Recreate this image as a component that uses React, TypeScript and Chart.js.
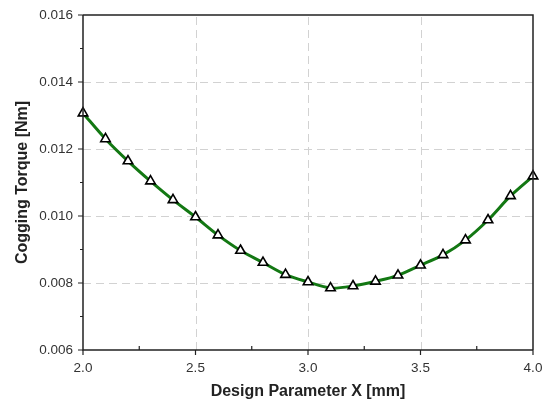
import React, { useEffect, useRef } from "react";
import { Chart, registerables } from "chart.js";

Chart.register(...registerables);

const xValues = [2.0, 2.1, 2.2, 2.3, 2.4, 2.5, 2.6, 2.7, 2.8, 2.9, 3.0, 3.1, 3.2, 3.3, 3.4, 3.5, 3.6, 3.7, 3.8, 3.9, 4.0];
const torqueValues = [0.01307, 0.0123, 0.01164, 0.01104, 0.01048, 0.00997, 0.00943, 0.00897, 0.00861, 0.00825, 0.00803, 0.00785, 0.00791, 0.00805, 0.00823, 0.00853, 0.00884, 0.00928, 0.00988, 0.0106, 0.01119];
const xMajorTicks = [2.0, 2.5, 3.0, 3.5, 4.0];
const xMinorTicks = [2.25, 2.75, 3.25, 3.75];
const yMajorTicks = [0.006, 0.008, 0.01, 0.012, 0.014, 0.016];
const yMinorTicks = [0.007, 0.009, 0.011, 0.013, 0.015];

const gridPlugin = {
  id: "dashGrid",
  beforeDatasetsDraw(chart: any) {
    const { ctx, chartArea } = chart;
    const xs = chart.scales.x;
    const ys = chart.scales.y;
    ctx.save();
    ctx.strokeStyle = "#d2d2d2";
    ctx.lineWidth = 1;
    ctx.setLineDash([8, 5]);
    ctx.beginPath();
    for (const v of xMajorTicks.slice(1, -1)) {
      const px = Math.round(xs.getPixelForValue(v)) + 0.5;
      ctx.moveTo(px, chartArea.bottom);
      ctx.lineTo(px, chartArea.top);
    }
    for (const v of yMajorTicks.slice(1, -1)) {
      const py = Math.round(ys.getPixelForValue(v)) + 0.5;
      ctx.moveTo(chartArea.left, py);
      ctx.lineTo(chartArea.right, py);
    }
    ctx.stroke();
    ctx.restore();
  },
};

const axisPlugin = {
  id: "axisTicks",
  afterDraw(chart: any) {
    const { ctx, chartArea } = chart;
    const xs = chart.scales.x;
    const ys = chart.scales.y;
    ctx.save();
    ctx.strokeStyle = "#222";
    ctx.lineWidth = 1.5;
    ctx.beginPath();
    ctx.moveTo(chartArea.left, chartArea.top);
    ctx.lineTo(chartArea.right, chartArea.top);
    ctx.lineTo(chartArea.right, chartArea.bottom);
    ctx.stroke();
    ctx.beginPath();
    ctx.moveTo(chartArea.left, chartArea.top);
    ctx.lineTo(chartArea.left, chartArea.bottom);
    ctx.lineTo(chartArea.right, chartArea.bottom);
    ctx.stroke();
    ctx.lineWidth = 1.2;
    ctx.beginPath();
    for (const v of xMajorTicks) {
      const px = xs.getPixelForValue(v);
      ctx.moveTo(px, chartArea.bottom);
      ctx.lineTo(px, chartArea.bottom + 5);
    }
    for (const v of xMinorTicks) {
      const px = xs.getPixelForValue(v);
      ctx.moveTo(px, chartArea.bottom);
      ctx.lineTo(px, chartArea.bottom - 4);
    }
    for (const v of yMajorTicks) {
      const py = ys.getPixelForValue(v);
      ctx.moveTo(chartArea.left, py);
      ctx.lineTo(chartArea.left - 5, py);
    }
    for (const v of yMinorTicks) {
      const py = ys.getPixelForValue(v);
      ctx.moveTo(chartArea.left, py);
      ctx.lineTo(chartArea.left - 3, py);
    }
    ctx.stroke();
    ctx.restore();
  },
};

export default function App() {
  const ref = useRef<HTMLCanvasElement>(null);
  useEffect(() => {
    document.body.style.margin = "0";
    const chart = new Chart(ref.current!, {
      type: "line",
      data: {
        datasets: [
          {
            data: xValues.map((x, i) => ({ x, y: torqueValues[i] })),
            borderColor: "#137813",
            borderWidth: 3,
            pointStyle: "triangle",
            pointRadius: 5.5,
            pointBackgroundColor: "#ffffff",
            pointBorderColor: "#000000",
            pointBorderWidth: 1.6,
            tension: 0.3,
            clip: false as any,
          },
        ],
      },
      options: {
        animation: false,
        responsive: false,
        layout: { padding: { left: 0, right: 17, top: 15, bottom: 0 } },
        plugins: { legend: { display: false }, tooltip: { enabled: false } },
        scales: {
          x: {
            type: "linear",
            min: 2,
            max: 4,
            afterBuildTicks: (s: any) => {
              s.ticks = xMajorTicks.map((v) => ({ value: v }));
            },
            afterFit: (s: any) => {
              s.height = 51;
              s.paddingLeft = 0;
              s.paddingRight = 0;
            },
            ticks: {
              callback: (v: any) => Number(v).toFixed(1),
              font: { family: "Liberation Sans", size: 13.5 },
              color: "#333",
              padding: 10,
              maxRotation: 0,
            },
            grid: { display: false, drawTicks: false },
            border: { display: false },
            title: {
              display: true,
              text: "Design Parameter X [mm]",
              font: { family: "Liberation Sans", size: 16, weight: "bold" },
              color: "#222",
              padding: { top: 2, bottom: 0 },
            },
          },
          y: {
            type: "linear",
            min: 0.006,
            max: 0.016,
            afterBuildTicks: (s: any) => {
              s.ticks = yMajorTicks.map((v) => ({ value: v }));
            },
            afterFit: (s: any) => {
              s.width = 83;
              s.paddingTop = 0;
              s.paddingBottom = 0;
            },
            ticks: {
              callback: (v: any) => Number(v).toFixed(3),
              font: { family: "Liberation Sans", size: 13.5 },
              color: "#333",
              padding: 10,
            },
            grid: { display: false, drawTicks: false },
            border: { display: false },
            title: {
              display: true,
              text: "Cogging Torque [Nm]",
              font: { family: "Liberation Sans", size: 16, weight: "bold" },
              color: "#222",
              padding: { top: 13, bottom: 4 },
            },
          },
        },
      },
      plugins: [gridPlugin, axisPlugin],
    });
    return () => chart.destroy();
  }, []);
  return (
    <div style={{ width: 550, height: 401 }}>
      <canvas ref={ref} width={550} height={401} />
    </div>
  );
}
